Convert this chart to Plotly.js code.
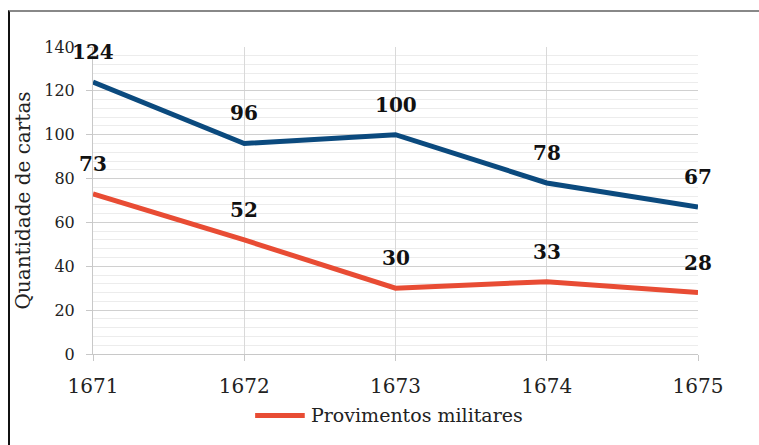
<!DOCTYPE html>
<html>
<head>
<meta charset="utf-8">
<script src="https://cdn.plot.ly/plotly-3.0.1.min.js"></script>
<style>
html,body{margin:0;padding:0;background:#fff;}
#wrap{position:relative;width:759px;height:445px;}
#chart{position:absolute;left:0;top:0;width:759px;height:445px;}
#frame{position:absolute;left:8px;top:10px;width:760px;height:440px;border-left:2px solid #111;border-top:2px solid #888;pointer-events:none;}
</style>
</head>
<body>
<div id="wrap"><div id="chart"></div><div id="frame"></div></div>
<script>
const years = [1671, 1672, 1673, 1674, 1675];
const totalCartas = [124, 96, 100, 78, 67];
const provimentosMilitares = [73, 52, 30, 33, 28];
const yTitle = "Quantidade de cartas";
const legendName = "Provimentos militares";

const blue = "#0b4a7e";
const red = "#e84c34";
const serif = "DejaVu Serif, serif";

const traces = [
  {x: years, y: totalCartas, type: "scatter", mode: "lines", name: "Total",
   line: {color: blue, width: 5}, showlegend: false, hoverinfo: "skip"},
  {x: years, y: provimentosMilitares, type: "scatter", mode: "lines", name: legendName,
   line: {color: red, width: 5}, showlegend: false, hoverinfo: "skip"}
];

const annotations = [];
[totalCartas, provimentosMilitares].forEach(series => {
  series.forEach((v, i) => {
    annotations.push({x: years[i], y: v, xref: "x", yref: "y", text: "<b>" + v + "</b>",
      showarrow: false, yshift: 30, xanchor: "center", yanchor: "middle",
      font: {family: serif, size: 20, color: "#111"}});
  });
});
annotations.push({xref: "paper", yref: "paper", x: 0.357, y: -0.2, xanchor: "left", yanchor: "middle",
  text: legendName, showarrow: false, font: {family: serif, size: 19, color: "#222"}});

const layout = {
  width: 759, height: 445,
  margin: {l: 93, r: 61, t: 47, b: 91},
  paper_bgcolor: "#fff", plot_bgcolor: "#fff",
  showlegend: false,
  font: {family: serif, color: "#222"},
  xaxis: {
    range: [1671, 1675], tickvals: years, ticktext: years.map(String),
    showgrid: true, gridcolor: "#d9d9d9", gridwidth: 1,
    zeroline: false, showline: true, linecolor: "#c8c8c8", linewidth: 1,
    ticks: "outside", ticklen: 6, tickcolor: "#c8c8c8",
    ticklabelstandoff: 8,
    tickfont: {family: serif, size: 20, color: "#222"}
  },
  yaxis: {
    range: [0, 140], dtick: 20, tick0: 0,
    showgrid: true, gridcolor: "#d0d0d0", gridwidth: 1,
    minor: {dtick: 4, showgrid: true, gridcolor: "#ececec", gridwidth: 1},
    zeroline: false, showline: true, linecolor: "#c8c8c8", linewidth: 1,
    ticks: "outside", ticklen: 6, tickcolor: "#c8c8c8",
    ticklabelstandoff: 8,
    tickfont: {family: serif, size: 16, color: "#222"},
    title: {text: yTitle, font: {family: serif, size: 20, color: "#222"}, standoff: 8}
  },
  shapes: [
    {type: "line", xref: "paper", yref: "paper", x0: 0.268, x1: 0.350, y0: -0.2, y1: -0.2,
     line: {color: red, width: 5}}
  ],
  annotations: annotations
};

Plotly.newPlot("chart", traces, layout, {displayModeBar: false, staticPlot: true});
</script>
</body>
</html>
